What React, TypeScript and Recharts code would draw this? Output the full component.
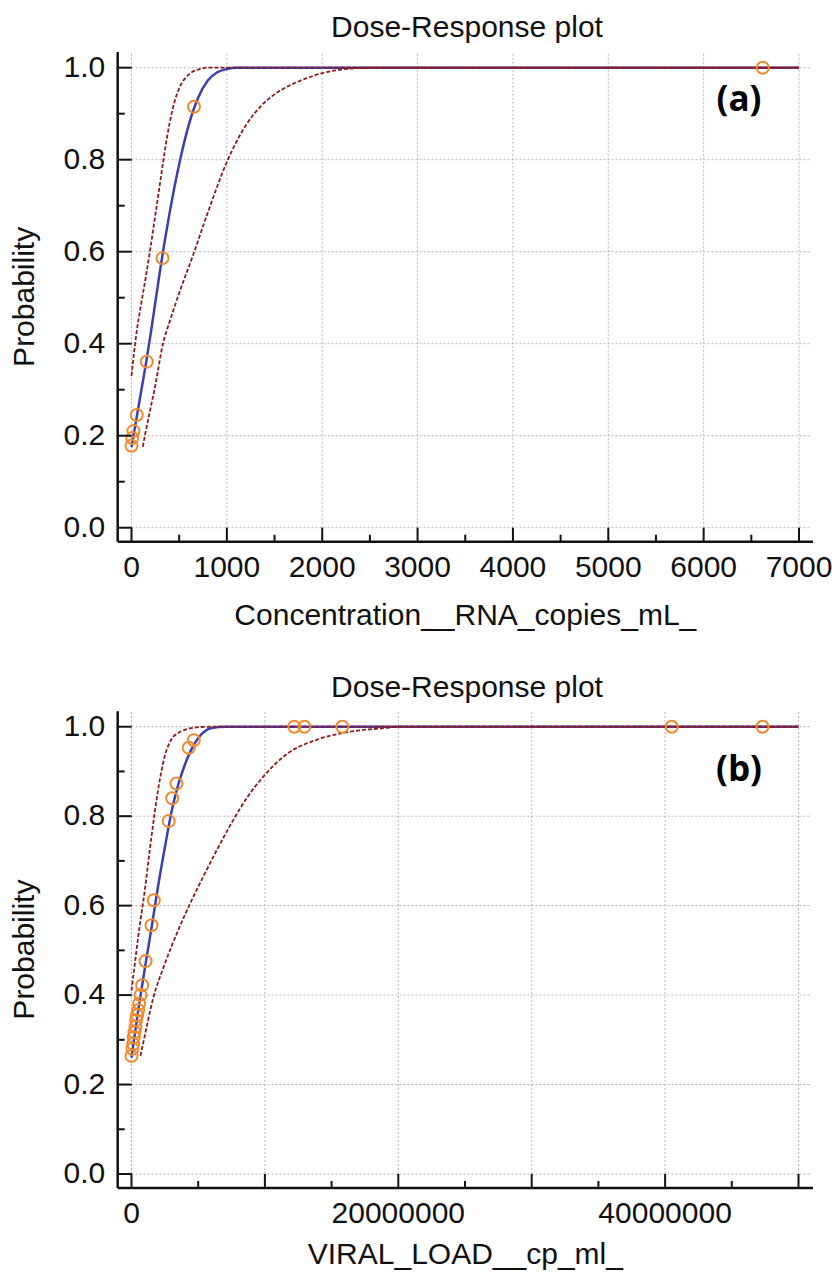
import React from "react";
import { ComposedChart, Line, Scatter, XAxis, YAxis, ReferenceLine, Label } from "recharts";

// ---- panel (a): Concentration__RNA_copies_mL_ ----
const aPointX = [0, 8, 20, 55, 160, 325, 655, 6620];
const aPointY = [0.178, 0.195, 0.21, 0.245, 0.361, 0.586, 0.915, 1.0];

const aFitX = [0, 50, 100, 150, 200, 250, 300, 350, 400, 450, 500, 600, 700, 800, 900, 1000, 1100, 7000];
const aFitY = [0.175, 0.235, 0.295, 0.355, 0.42, 0.49, 0.56, 0.625, 0.685, 0.74, 0.79, 0.875, 0.935, 0.972, 0.99, 0.997, 1.0, 1.0];

const aUpperX = [0, 50, 100, 150, 200, 250, 300, 350, 400, 450, 500, 600, 700, 800, 7000];
const aUpperY = [0.33, 0.42, 0.485, 0.545, 0.61, 0.68, 0.75, 0.82, 0.88, 0.925, 0.955, 0.985, 0.996, 1.0, 1.0];

const aLowerX = [118, 150, 200, 250, 330, 400, 500, 650, 800, 1000, 1200, 1350, 1500, 1750, 2000, 2200, 2500, 7000];
const aLowerY = [0.176, 0.21, 0.26, 0.31, 0.4, 0.448, 0.51, 0.595, 0.685, 0.795, 0.875, 0.915, 0.942, 0.97, 0.988, 0.996, 1.0, 1.0];

const aXTicks = [0, 500, 1000, 1500, 2000, 2500, 3000, 3500, 4000, 4500, 5000, 5500, 6000, 6500, 7000];
const aXMajor = [0, 1000, 2000, 3000, 4000, 5000, 6000, 7000];
const aXLabels = [0, 1000, 2000, 3000, 4000, 5000, 6000, 7000];

// ---- panel (b): VIRAL_LOAD__cp_ml_ ----
const bPointX = [
  0, 75000, 125000, 175000, 225000, 300000, 350000, 425000, 500000, 575000, 675000, 800000,
  1050000, 1500000, 1670000, 2790000, 3050000, 3370000, 4290000, 4670000,
  12200000, 12960000, 15800000, 40500000, 47300000,
];
const bPointY = [
  0.264, 0.28, 0.291, 0.306, 0.317, 0.329, 0.344, 0.355, 0.366, 0.381, 0.4, 0.422,
  0.476, 0.556, 0.612, 0.789, 0.84, 0.873, 0.953, 0.97,
  1.0, 1.0, 1.0, 1.0, 1.0,
];

const bFitX = [0, 500000, 1000000, 1500000, 2000000, 2500000, 3000000, 3500000, 4000000, 4500000, 5000000, 5500000, 6000000, 7000000, 50000000];
const bFitY = [0.26, 0.365, 0.46, 0.55, 0.645, 0.73, 0.81, 0.87, 0.915, 0.95, 0.975, 0.99, 0.997, 1.0, 1.0];

const bUpperX = [0, 250000, 500000, 1000000, 1500000, 2000000, 2500000, 3000000, 3500000, 4000000, 5000000, 6000000, 50000000];
const bUpperY = [0.41, 0.47, 0.53, 0.635, 0.755, 0.86, 0.935, 0.972, 0.986, 0.993, 0.999, 1.0, 1.0];

const bLowerX = [670000, 1000000, 1600000, 2500000, 3500000, 4400000, 5500000, 6500000, 7600000, 8700000, 9700000, 11700000, 14000000, 16400000, 19000000, 20000000, 50000000];
const bLowerY = [0.264, 0.31, 0.39, 0.47, 0.545, 0.605, 0.672, 0.73, 0.79, 0.843, 0.882, 0.94, 0.972, 0.989, 0.997, 1.0, 1.0];

const bXTicks = [0, 5000000, 10000000, 15000000, 20000000, 25000000, 30000000, 35000000, 40000000, 45000000, 50000000];
const bXMajor = [0, 10000000, 20000000, 30000000, 40000000, 50000000];
const bXLabels = [0, 20000000, 40000000];

// shared y axis
const yTicks = [0, 0.1, 0.2, 0.3, 0.4, 0.5, 0.6, 0.7, 0.8, 0.9, 1.0];
const yMajor = [0, 0.2, 0.4, 0.6, 0.8, 1.0];

const FONT = "'Liberation Sans', Arial, sans-serif";
const ORANGE = "#f08a2c";
const BLUE = "#3b3fb3";
const DARKRED = "#8e1b1b";
const GRID = "#b5b5b5";

const zip = (xs: number[], ys: number[]) => xs.map((x, i) => ({ x, y: ys[i] }));
const inList = (list: number[], v: number) =>
  list.some((m) => Math.abs(m - v) <= 1e-9 * Math.max(1, Math.abs(v)));

function makeXTick(majors: number[], labels: number[]) {
  return (props: any) => {
    const { x, y, payload } = props;
    const v = payload.value;
    const major = inList(majors, v);
    return (
      <g>
        <line x1={x} x2={x} y1={y} y2={y - (major ? 14 : 7)} stroke="#111" strokeWidth={2} />
        {inList(labels, v) && (
          <text x={x} y={y + 35} textAnchor="middle" fontSize={30} fontFamily={FONT} fill="#111">
            {String(v)}
          </text>
        )}
      </g>
    );
  };
}

const yTick = (props: any) => {
  const { x, y, payload } = props;
  const v = payload.value;
  const major = inList(yMajor, v);
  return (
    <g>
      <line x1={x} x2={x + (major ? 14 : 7)} y1={y} y2={y} stroke="#111" strokeWidth={2} />
      {major && (
        <text x={x - 12.5} y={y + 9} textAnchor="end" fontSize={30} fontFamily={FONT} fill="#111">
          {v.toFixed(1)}
        </text>
      )}
    </g>
  );
};

const yTitle = (props: any) => {
  const vb = props.viewBox;
  const cx = 34;
  const cy = vb.y + vb.height / 2;
  return (
    <text x={cx} y={cy} transform={`rotate(-90 ${cx} ${cy})`} textAnchor="middle" fontSize={30} fontFamily={FONT} fill="#111">
      Probability
    </text>
  );
};

const ring = (props: any) => (
  <circle cx={props.cx} cy={props.cy} r={6} fill="none" stroke={ORANGE} strokeWidth={2} />
);

interface PanelProps {
  height: number;
  top: number;
  axisHeight: number;
  xDomain: [number, number];
  yDomain: [number, number];
  gridRight: number;
  xTicks: number[];
  xMajor: number[];
  xLabels: number[];
  xTitle: string;
  xTitleOffset: number;
  points: { x: number; y: number }[];
  fit: { x: number; y: number }[];
  upper: { x: number; y: number }[];
  lower: { x: number; y: number }[];
}

function Panel(p: PanelProps) {
  return (
    <ComposedChart width={835} height={p.height} margin={{ top: p.top, right: 22, bottom: 0, left: 0 }}>
      <XAxis
        type="number"
        dataKey="x"
        domain={p.xDomain}
        allowDataOverflow
        ticks={p.xTicks}
        interval={0}
        tickSize={0}
        tickMargin={0}
        tickLine={false}
        tick={makeXTick(p.xMajor, p.xLabels)}
        height={p.axisHeight}
        axisLine={{ stroke: "#111", strokeWidth: 2.5 }}
      >
        <Label value={p.xTitle} position="insideBottom" offset={p.xTitleOffset} fontSize={30} fontFamily={FONT} fill="#111" />
      </XAxis>
      <YAxis
        type="number"
        domain={p.yDomain}
        allowDataOverflow
        ticks={yTicks}
        interval={0}
        tickSize={0}
        tickMargin={0}
        tickLine={false}
        tick={yTick}
        width={117.7}
        axisLine={{ stroke: "#111", strokeWidth: 2.5 }}
      >
        <Label content={yTitle} />
      </YAxis>

      {yMajor.map((v) => (
        <ReferenceLine
          key={"h" + v}
          segment={[{ x: 0, y: v }, { x: p.gridRight, y: v }]}
          stroke={GRID}
          strokeWidth={1}
          strokeDasharray="2 2"
        />
      ))}
      {p.xMajor.map((v) => (
        <ReferenceLine
          key={"v" + v}
          segment={[{ x: v, y: 0 }, { x: v, y: p.yDomain[1] }]}
          stroke={GRID}
          strokeWidth={1}
          strokeDasharray="2 2"
        />
      ))}

      <Line data={p.fit} dataKey="y" type="monotone" stroke={BLUE} strokeWidth={2.5} dot={false} isAnimationActive={false} />
      <Line data={p.upper} dataKey="y" type="monotone" stroke={DARKRED} strokeWidth={1.8} strokeDasharray="4 2" dot={false} isAnimationActive={false} />
      <Line data={p.lower} dataKey="y" type="monotone" stroke={DARKRED} strokeWidth={1.8} strokeDasharray="4 2" dot={false} isAnimationActive={false} />
      <Scatter data={p.points} dataKey="y" shape={ring} isAnimationActive={false} />
    </ComposedChart>
  );
}

export default function App() {
  return (
    <div style={{ position: "absolute", left: 0, top: 0, width: 835, height: 1276, background: "#fff", fontFamily: FONT }}>
      <div style={{ position: "absolute", left: 0, top: 0 }}>
        <Panel
          height={650}
          top={52}
          axisHeight={108.3}
          xDomain={[-144.7, 7146.8]}
          yDomain={[-0.0304, 1.0341]}
          gridRight={7115}
          xTicks={aXTicks}
          xMajor={aXMajor}
          xLabels={aXLabels}
          xTitle="Concentration__RNA_copies_mL_"
          xTitleOffset={25}
          points={zip(aPointX, aPointY)}
          fit={zip(aFitX, aFitY)}
          upper={zip(aUpperX, aUpperY)}
          lower={zip(aLowerX, aLowerY)}
        />
      </div>
      <div style={{ position: "absolute", left: 0, top: 650 }}>
        <Panel
          height={626}
          top={61.2}
          axisHeight={88}
          xDomain={[-1034000, 51087000]}
          yDomain={[-0.0313, 1.0347]}
          gridRight={50860000}
          xTicks={bXTicks}
          xMajor={bXMajor}
          xLabels={bXLabels}
          xTitle="VIRAL_LOAD__cp_ml_"
          xTitleOffset={12}
          points={zip(bPointX, bPointY)}
          fit={zip(bFitX, bFitY)}
          upper={zip(bUpperX, bUpperY)}
          lower={zip(bLowerX, bLowerY)}
        />
      </div>
      <svg width={835} height={1276} style={{ position: "absolute", left: 0, top: 0, pointerEvents: "none" }}>
        <text x={467} y={37} textAnchor="middle" fontSize={30} fontFamily={FONT} fill="#111">Dose-Response plot</text>
        <text x={467} y={697} textAnchor="middle" fontSize={30} fontFamily={FONT} fill="#111">Dose-Response plot</text>
        <text x={739} y={111} textAnchor="middle" fontSize={35} fontWeight={700} fontFamily="'Open Sans', sans-serif" fill="#000">(a)</text>
        <text x={739} y={781} textAnchor="middle" fontSize={35} fontWeight={700} fontFamily="'Open Sans', sans-serif" fill="#000">(b)</text>
      </svg>
    </div>
  );
}
